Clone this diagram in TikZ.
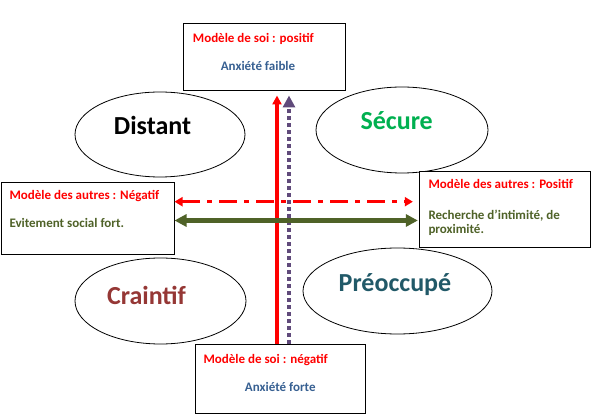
\documentclass[tikz,border=0pt]{standalone}
\usepackage{fontspec}
\setmainfont{Carlito}
\usetikzlibrary{arrows.meta,shapes.geometric,positioning}
\definecolor{anxbleu}{RGB}{55,96,146}
\definecolor{olive}{RGB}{79,98,40}
\definecolor{violet}{RGB}{96,74,123}
\definecolor{craintcol}{RGB}{149,55,53}
\definecolor{preoccol}{RGB}{33,89,104}
\definecolor{securcol}{RGB}{0,176,80}

\begin{document}
\begin{tikzpicture}[x=1pt,y=-1pt,
  bulle/.style={draw,ellipse,inner sep=0pt,line width=0.8pt},
  etiq/.style={anchor=base,inner sep=0pt,font=\bfseries\fontsize{26}{28}\selectfont},
  cadre/.style={draw,fill=white,line width=1pt,inner sep=0pt},
  txt/.style={anchor=base west,inner sep=0pt,font=\bfseries\fontsize{13}{14}\selectfont}]
  \useasboundingbox (0,0) rectangle (600,419);
  % les quatre styles
  \node[bulle,minimum width=170pt,minimum height=85pt] (distant) at (160,134.5) {};
  \node[bulle,minimum width=172pt,minimum height=86pt] (secure) at (402,130) {};
  \node[bulle,minimum width=171pt,minimum height=86pt] (craintif) at (160.5,301) {};
  \node[bulle,minimum width=189pt,minimum height=86pt] (preoccupe) at (397.5,291) {};
  \node[etiq] (distant-t) at (152.5,134.3) {Distant};
  \node[etiq,text=securcol] (secure-t) at (396.7,130) {Sécure};
  \node[etiq,text=craintcol] (craintif-t) at (146.5,305) {Craintif};
  \node[etiq,text=preoccol] (preoccupe-t) at (395,291.7) {Préoccupé};
  % les cadres
  \node[cadre,minimum width=162.4pt,minimum height=67.4pt] (soipos) at (264.5,57) {};
  \node[cadre,minimum width=170pt,minimum height=69pt] (soineg) at (280,378.8) {};
  \node[cadre,minimum width=173pt,minimum height=71.7pt] (autneg) at (87.5,218.2) {};
  \node[cadre,minimum width=170.7pt,minimum height=76.3pt] (autpos) at (504.7,209.2) {};
  \node[txt,text=red] (soipos-r) at (192.7,42.7) {Modèle de soi : positif};
  \node[txt,anchor=base,text=anxbleu] (soipos-b) at (258,70.7) {Anxiété faible};
  \node[txt,text=red] (soineg-r) at (203.3,363.3) {Modèle de soi : négatif};
  \node[txt,anchor=base,text=anxbleu] (soineg-b) at (280.3,391.7) {Anxiété forte};
  \node[txt,text=red] (autneg-r) at (9.3,199.3) {Modèle des autres : Négatif};
  \node[txt,text=olive] (autneg-v) at (9.3,227.3) {Evitement social fort.};
  \node[txt,text=red] (autpos-r) at (428.3,189) {Modèle des autres : Positif};
  \node[txt,text=olive] (autpos-v1) at (428.3,219.3) {Recherche d’intimité, de};
  \node[txt,text=olive] (autpos-v2) at (428.3,233.3) {proximité.};
  % les axes
  \coordinate (vr) at (277,0);
  \coordinate (vv) at (289,0);
  \coordinate (hr) at (0,201.7);
  \coordinate (hv) at (0,220.5);
  \draw[red,line width=4.3pt,-{Triangle[width=9pt,length=9pt]},shorten >=4.3pt]
    (soineg.north -| vr) -- (soipos.south -| vr);
  \draw[violet,line width=4pt,dash pattern=on 4pt off 3pt,
    -{Triangle[width=12pt,length=12pt]},shorten >=4.3pt]
    (soineg.north -| vv) -- (soipos.south -| vv);
  \draw[red,line width=3pt,dash pattern=on 18pt off 7pt on 5pt off 7pt,
    {Triangle[width=9pt,length=8pt]}-{Triangle[width=9pt,length=8pt]},shorten >=6pt]
    (autneg.east |- hr) -- (autpos.west |- hr);
  \draw[olive,line width=4.5pt,
    {Triangle[width=12pt,length=12pt]}-{Triangle[width=12pt,length=12pt]},shorten >=1pt]
    (autneg.east |- hv) -- (autpos.west |- hv);
\end{tikzpicture}
\end{document}
